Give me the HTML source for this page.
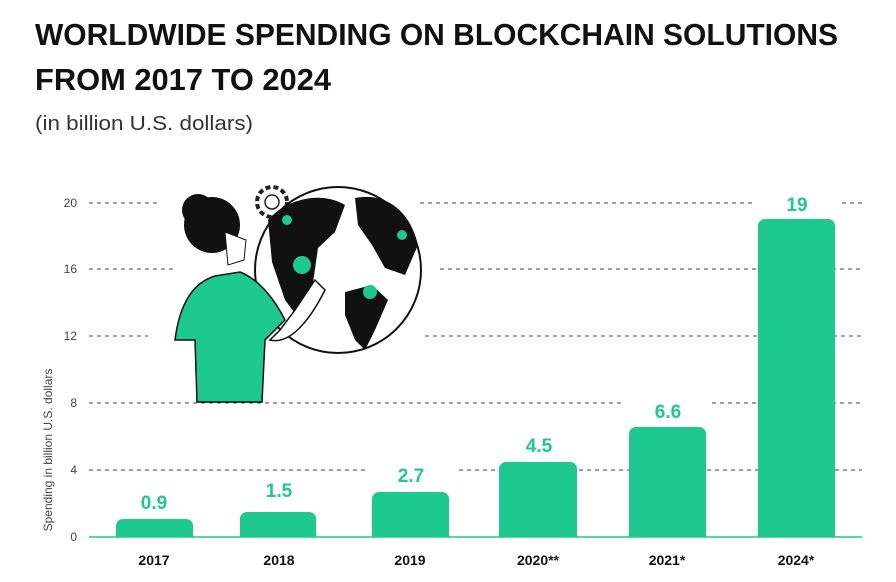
<!DOCTYPE html>
<html><head><meta charset="utf-8"><style>
html,body{margin:0;padding:0;background:#fff;}
svg{display:block}
text{font-family:"Liberation Sans",sans-serif}
</style></head><body>
<svg width="896" height="582" viewBox="0 0 896 582" xmlns="http://www.w3.org/2000/svg">
<text x="35" y="45" font-size="31" font-weight="bold" fill="#111" textLength="803" lengthAdjust="spacingAndGlyphs">WORLDWIDE SPENDING ON BLOCKCHAIN SOLUTIONS</text>
<text x="35" y="90" font-size="31" font-weight="bold" fill="#111" textLength="296" lengthAdjust="spacingAndGlyphs">FROM 2017 TO 2024</text>
<text x="35" y="130" font-size="20" fill="#333" textLength="218" lengthAdjust="spacingAndGlyphs">(in billion U.S. dollars)</text>

<g stroke="#444" stroke-width="1" stroke-dasharray="4,4">
<line x1="89" y1="203" x2="157" y2="203"/><line x1="420" y1="203" x2="752" y2="203"/><line x1="842" y1="203" x2="862" y2="203"/>
<line x1="89" y1="269" x2="175" y2="269"/><line x1="440" y1="269" x2="862" y2="269"/>
<line x1="89" y1="336" x2="148" y2="336"/><line x1="425" y1="336" x2="862" y2="336"/>
<line x1="89" y1="403" x2="622" y2="403"/><line x1="712" y1="403" x2="862" y2="403"/>
<line x1="89" y1="470" x2="365" y2="470"/><line x1="459" y1="470" x2="862" y2="470"/>
</g>
<line x1="89" y1="537" x2="862" y2="537" stroke="#1ec98f" stroke-width="1.5"/>

<g font-size="12" fill="#444" text-anchor="end">
<text x="77" y="207">20</text><text x="77" y="273">16</text><text x="77" y="340">12</text>
<text x="77" y="407">8</text><text x="77" y="474">4</text><text x="77" y="541">0</text>
</g>
<text transform="translate(52,450) rotate(-90)" font-size="12" fill="#444" text-anchor="middle">Spending in billion U.S. dollars</text>

<!-- illustration -->
<circle cx="272" cy="202" r="15" fill="none" stroke="#222" stroke-width="4" stroke-dasharray="5,3"/>
<circle cx="272" cy="202" r="7" fill="none" stroke="#222" stroke-width="1.5"/>
<circle cx="338" cy="270" r="83" fill="#fff" stroke="#111" stroke-width="2"/>
<path d="M268 220 C285 200 320 190 345 205 L335 232 L318 248 L312 290 L300 320 L285 300 L272 262 Z" fill="#111"/>
<path d="M355 198 C385 192 410 210 418 245 L405 275 L385 268 L372 245 L358 225 Z" fill="#111"/>
<path d="M345 292 L372 285 L388 300 L375 330 L365 350 L355 340 L345 315 Z" fill="#111"/>
<circle cx="302" cy="265" r="9" fill="#1ec98f"/><circle cx="370" cy="292" r="7" fill="#1ec98f"/>
<circle cx="402" cy="235" r="5" fill="#1ec98f"/><circle cx="287" cy="220" r="5" fill="#1ec98f"/>
<circle cx="212" cy="225" r="28" fill="#111"/><circle cx="198" cy="210" r="16" fill="#111"/>
<path d="M225 232 L246 240 L244 260 L228 265 Z" fill="#fff" stroke="#111"/>
<path d="M175 340 C180 300 195 282 215 276 L240 272 C260 280 275 300 285 320 L265 340 L262 402 L197 402 L195 340 Z" fill="#1ec98f" stroke="#111" stroke-width="1.5"/>
<path d="M270 340 C290 345 310 320 325 290 L315 280 L295 310 L280 330 Z" fill="#fff" stroke="#111" stroke-width="1.5"/>

<!-- bars -->
<g fill="#1ec98f">
<path d="M116 537 V526 a7 7 0 0 1 7 -7 H186 a7 7 0 0 1 7 7 V537 Z"/>
<path d="M240 537 V519 a7 7 0 0 1 7 -7 H309 a7 7 0 0 1 7 7 V537 Z"/>
<path d="M372 537 V499 a7 7 0 0 1 7 -7 H442 a7 7 0 0 1 7 7 V537 Z"/>
<path d="M499 537 V469 a7 7 0 0 1 7 -7 H570 a7 7 0 0 1 7 7 V537 Z"/>
<path d="M629 537 V434 a7 7 0 0 1 7 -7 H699 a7 7 0 0 1 7 7 V537 Z"/>
<path d="M758 537 V226 a7 7 0 0 1 7 -7 H828 a7 7 0 0 1 7 7 V537 Z"/>
</g>
<g font-size="19" font-weight="bold" fill="#1ec98f" text-anchor="middle">
<text x="154" y="509">0.9</text><text x="279" y="497">1.5</text><text x="411" y="482">2.7</text>
<text x="539" y="452">4.5</text><text x="668" y="418">6.6</text><text x="797" y="211">19</text>
</g>
<g font-size="14" font-weight="bold" fill="#111" text-anchor="middle">
<text x="154" y="565">2017</text><text x="279" y="565">2018</text><text x="410" y="565">2019</text>
<text x="538" y="565">2020**</text><text x="667" y="565">2021*</text><text x="796" y="565">2024*</text>
</g>
</svg>
</body></html>
